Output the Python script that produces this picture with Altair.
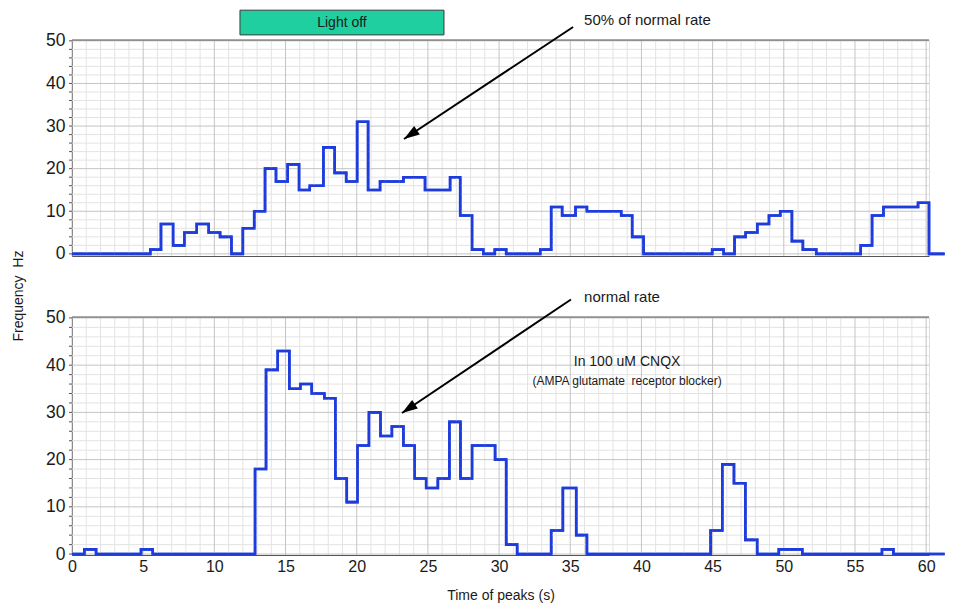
import altair as alt
import pandas as pd
import numpy as np

# ---- data (step histogram: bin edges and bin values) ----
edges_top = [0, 5.5, 6.25, 7.1, 7.9, 8.76, 9.6, 10.4, 11.2, 12.0,
             12.8, 13.56, 14.33, 15.15, 15.95, 16.7, 17.66, 18.45, 19.26, 20.03,
             20.8, 21.64, 23.28, 24.8, 26.56, 27.27, 28.1, 28.9, 29.7, 30.5,
             32.9, 33.66, 34.43, 35.37, 36.17, 38.58, 39.35, 40.15, 44.97, 45.77,
             46.54, 47.32, 48.14, 48.96, 49.75, 50.57, 51.34, 52.28, 55.4, 56.2,
             57.0, 59.43, 60.2, 61.3]
values_top = [0, 1, 7, 2, 5, 7, 5, 4, 0, 6,
              10, 20, 17, 21, 15, 16, 25, 19, 17, 31,
              15, 17, 18, 15, 18, 9, 1, 0, 1, 0,
              1, 11, 9, 11, 10, 9, 4, 0, 1, 0,
              4, 5, 7, 9, 10, 3, 1, 0, 2, 9,
              11, 12, 0]

edges_bot = [0, 0.87, 1.69, 4.85, 5.67, 12.86, 13.63, 14.45, 15.27, 16.04,
             16.84, 17.73, 18.5, 19.3, 20.05, 20.86, 21.67, 22.47, 23.28, 24.06,
             24.88, 25.7, 26.51, 27.29, 28.1, 29.72, 30.5, 31.27, 33.66, 34.48,
             35.42, 36.17, 44.86, 45.68, 46.5, 47.3, 48.13, 49.65, 51.3, 56.9,
             57.7, 61.3]
values_bot = [0, 1, 0, 1, 0, 18, 39, 43, 35, 36,
              34, 33, 16, 11, 23, 30, 25, 27, 23, 16,
              14, 16, 28, 16, 23, 20, 2, 0, 5, 14,
              4, 0, 5, 19, 15, 3, 0, 1, 0, 1,
              0]

x_ticks = list(range(0, 61, 5))
y_ticks = list(range(0, 51, 10))

light_off = {"t1": 11.8, "t2": 26.13, "label": "Light off"}
note_top = "50% of normal rate"
note_bot = "normal rate"
note_cnqx = ["In 100 uM CNQX", "(AMPA glutamate\u00a0 receptor blocker)"]
x_title = "Time of peaks (s)"
y_title = "Frequency\u00a0\u00a0Hz"

# ---- styling ----
FONT = "Liberation Sans"
BLUE = "#1e3cdc"
MAJOR = "#c4c4c4"
MINOR = "#e3e3e3"
AXIS = "#555555"
TXT = "#1a1a1a"

W = 857
H_TOP = 216
H_BOT = 238
X_DOM = [0, 60.2]
Y_TOP = [-0.5, 50.2]
Y_BOT = [-0.2, 50.2]


def step_df(edges, values):
    return pd.DataFrame({"t": edges, "f": list(values) + [values[-1]]})


def xs():
    return alt.Scale(domain=X_DOM, nice=False, zero=False)


def ys(dom):
    return alt.Scale(domain=dom, nice=False, zero=False)


def grid(ydom, h):
    vx = pd.DataFrame({"t": np.arange(0, 61, 1)})
    vx["major"] = vx["t"] % 5 == 0
    hy = pd.DataFrame({"f": np.arange(0, 51, 2)})
    hy["major"] = hy["f"] % 10 == 0
    hy["t"] = X_DOM[0]
    hy["t2"] = X_DOM[1]
    layers = []
    for major, col in [(False, MINOR), (True, MAJOR)]:
        layers.append(
            alt.Chart(vx[vx.major == major]).mark_rule(color=col, strokeWidth=1).encode(
                x=alt.X("t:Q", scale=xs()),
                y=alt.value(0), y2=alt.value(h)))
        layers.append(
            alt.Chart(hy[hy.major == major]).mark_rule(color=col, strokeWidth=1).encode(
                x=alt.X("t:Q", scale=xs()), x2="t2:Q",
                y=alt.Y("f:Q", scale=ys(ydom))))
    # small tick marks on the left axis line, every 2 units
    layers.append(
        alt.Chart(hy).mark_rule(color=AXIS, strokeWidth=1).encode(
            x=alt.value(-3), x2=alt.value(0),
            y=alt.Y("f:Q", scale=ys(ydom))))
    return layers


def y_axis():
    return alt.Axis(values=y_ticks, ticks=False, domainColor=AXIS, grid=False,
                    labelFontSize=17.5, labelFont=FONT, labelColor=TXT,
                    labelPadding=7, labelFlush=False, title=None)


def line(df, ydom, xaxis):
    return alt.Chart(df).mark_line(interpolate="step-after", color=BLUE,
                                   strokeWidth=2.6, clip=False).encode(
        x=alt.X("t:Q", scale=xs(), axis=xaxis),
        y=alt.Y("f:Q", scale=ys(ydom), axis=y_axis()))


def frame_top():
    return alt.Chart(pd.DataFrame({"a": [0]})).mark_rule(color=AXIS, strokeWidth=1).encode(
        x=alt.value(0), x2=alt.value(W), y=alt.value(0))


def arrow(x0, y0, x1, y1, ydom, ang):
    d = pd.DataFrame({"t": [x0, x1], "f": [y0, y1], "o": [0, 1]})
    ln = alt.Chart(d).mark_line(color="black", strokeWidth=2, clip=False).encode(
        x=alt.X("t:Q", scale=xs()),
        y=alt.Y("f:Q", scale=ys(ydom)), order="o:Q")
    hd = alt.Chart(d.iloc[[1]]).mark_point(shape="M0,0L-0.55,1.7L0.55,1.7Z", filled=True,
                                           color="black", opacity=1, size=340,
                                           angle=ang, strokeWidth=0).encode(
        x=alt.X("t:Q", scale=xs()),
        y=alt.Y("f:Q", scale=ys(ydom)))
    return [ln, hd]


def text(t, f, s, ydom, size, align="center", angle=0):
    d = pd.DataFrame({"t": [t], "f": [f], "s": [s]})
    return alt.Chart(d).mark_text(font=FONT, fontSize=size, color=TXT, align=align,
                                  baseline="middle", angle=angle).encode(
        x=alt.X("t:Q", scale=xs()),
        y=alt.Y("f:Q", scale=ys(ydom)), text="s:N")


# ---- top panel ----
top_xaxis = alt.Axis(labels=False, ticks=False, domain=True, domainColor=AXIS,
                     grid=False, title=None)
lo = pd.DataFrame({"t": [light_off["t1"]], "t2": [light_off["t2"]],
                   "f": [57.2], "f2": [51.4]})
light_rect = alt.Chart(lo).mark_rect(fill="#1fcf9f", stroke="#3a3a3a", strokeWidth=1).encode(
    x=alt.X("t:Q", scale=xs()), x2="t2:Q",
    y=alt.Y("f:Q", scale=ys(Y_TOP)), y2="f2:Q")

top = alt.layer(
    line(step_df(edges_top, values_top), Y_TOP, top_xaxis),
    *grid(Y_TOP, H_TOP),
    line(step_df(edges_top, values_top), Y_TOP, top_xaxis),
    frame_top(),
    light_rect,
    text((light_off["t1"] + light_off["t2"]) / 2, 54.3, light_off["label"], Y_TOP, 14),
    text(35.97, 54.9, note_top, Y_TOP, 15, align="left"),
    *arrow(35.2, 53.25, 23.32, 26.96, Y_TOP, 236),
    text(-3.72, -9.9, y_title, Y_TOP, 14, angle=270),
).properties(width=W, height=H_TOP)

# ---- bottom panel ----
bot_xaxis = alt.Axis(values=x_ticks, ticks=False, domain=True, domainColor=AXIS,
                     grid=False, labelFontSize=16, labelFont=FONT, labelColor=TXT,
                     labelPadding=3, labelFlush=False, title=x_title,
                     titleFont=FONT, titleFontSize=14, titleFontWeight="normal",
                     titleColor=TXT, titlePadding=14)

bottom = alt.layer(
    line(step_df(edges_bot, values_bot), Y_BOT, bot_xaxis),
    *grid(Y_BOT, H_BOT),
    line(step_df(edges_bot, values_bot), Y_BOT, bot_xaxis),
    frame_top(),
    text(35.97, 54.44, note_bot, Y_BOT, 15, align="left"),
    *arrow(35.05, 53.9, 23.18, 29.87, Y_BOT, 236),
    text(38.99, 40.67, note_cnqx[0], Y_BOT, 14),
    text(38.99, 36.65, note_cnqx[1], Y_BOT, 12),
).properties(width=W, height=H_BOT)

chart = alt.vconcat(top, bottom, spacing=61, bounds="flush").properties(
    padding={"left": 3, "top": 1, "right": 0, "bottom": 0}
).configure_view(stroke=None).configure(background="white")

chart.save("out.html", embed_options={"renderer": "svg", "actions": False})
